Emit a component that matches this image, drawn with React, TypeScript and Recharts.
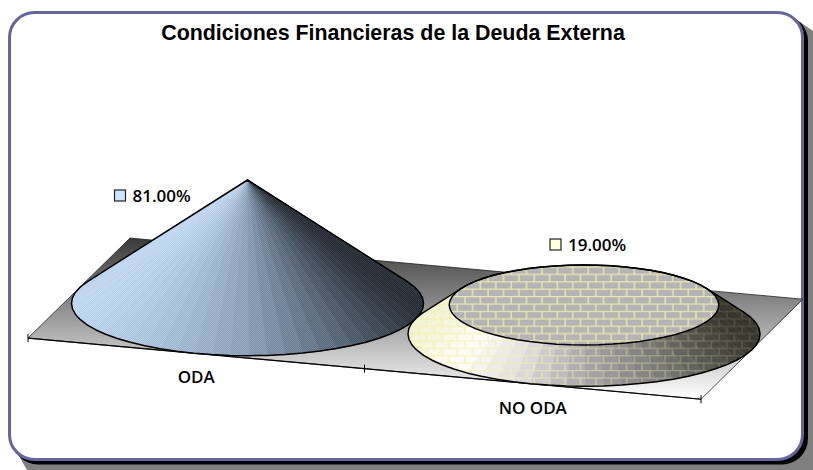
import { BarChart, Bar, XAxis, YAxis, LabelList, Customized } from "recharts";

const categories = ["ODA", "NO ODA"];
const shares = [81, 19];
const keyColors = ["#cce6ff", "#ffffdd"];

const chartData = categories.map((name, i) => ({ name, value: shares[i] }));

// projection of the fake 3D floor
const W = 813;
const H = 470;
const LEFT = 28;
const RIGHT = 112;
const TOP = 180;
const BOTTOM = 166.6;
const AXIS_H = 40;
const SLOPE = 0.0908; // front axis drop per px
const DEPTH_X = 51;
const DEPTH_Y = -50;
const SIDES = 60;
const AXIS_MAX = 81;

const plotW = W - LEFT - RIGHT;
const bandW = plotW / categories.length;
const frontY = (x: number) => H - BOTTOM - DEPTH_Y + SLOPE * (x - LEFT - bandW / 2);

function mix(a: number[], b: number[], t: number) {
  return a.map((v, i) => Math.round(v + (b[i] - v) * t));
}

function ramp(stops: [number, number[]][], u: number) {
  for (let i = 1; i < stops.length; i++) {
    if (u <= stops[i][0]) {
      const t = (u - stops[i - 1][0]) / (stops[i][0] - stops[i - 1][0]);
      const c = mix(stops[i - 1][1], stops[i][1], Math.max(0, t));
      return `rgb(${c[0]},${c[1]},${c[2]})`;
    }
  }
  const c = stops[stops.length - 1][1];
  return `rgb(${c[0]},${c[1]},${c[2]})`;
}

const coneRamp: [number, number[]][] = [
  [-1, [190, 212, 236]],
  [-0.6, [168, 190, 216]],
  [0, [130, 150, 174]],
  [0.5, [84, 98, 114]],
  [1, [38, 42, 50]],
];
const frustumRamp: [number, number[]][] = [
  [-1, [244, 244, 214]],
  [-0.75, [255, 255, 250]],
  [-0.4, [224, 224, 224]],
  [0, [168, 168, 168]],
  [0.5, [118, 118, 114]],
  [1, [52, 52, 44]],
];

type Pt = [number, number];

function hull(points: Pt[]) {
  const p = [...points].sort((a, b) => a[0] - b[0] || a[1] - b[1]);
  const cross = (o: Pt, a: Pt, b: Pt) =>
    (a[0] - o[0]) * (b[1] - o[1]) - (a[1] - o[1]) * (b[0] - o[0]);
  const lower: Pt[] = [];
  for (const q of p) {
    while (lower.length > 1 && cross(lower[lower.length - 2], lower[lower.length - 1], q) <= 0) lower.pop();
    lower.push(q);
  }
  const upper: Pt[] = [];
  for (const q of [...p].reverse()) {
    while (upper.length > 1 && cross(upper[upper.length - 2], upper[upper.length - 1], q) <= 0) upper.pop();
    upper.push(q);
  }
  return [...lower.slice(0, -1), ...upper.slice(0, -1)];
}

const toPoints = (pts: Pt[]) => pts.map((p) => `${p[0].toFixed(1)},${p[1].toFixed(1)}`).join(" ");

// cone cut off at the value, sitting on the floor
function ConeShape(props: any) {
  const { x, y, width, height, index } = props;
  const cx = x + width / 2 + DEPTH_X;
  const base = y + height + SLOPE * (x - LEFT);
  const cut = 1 - shares[index] / AXIS_MAX;
  const ring = (scale: number, cy: number): Pt[] =>
    Array.from({ length: SIDES }, (_, i) => {
      const t = (i / SIDES) * Math.PI * 2 + 0.09;
      const ux = width / 2;
      const uy = SLOPE * ux;
      return [
        cx + scale * (Math.cos(t) * ux + Math.sin(t) * DEPTH_X),
        cy + scale * (Math.cos(t) * uy + Math.sin(t) * DEPTH_Y),
      ] as Pt;
    });
  const low = ring(1, base);
  const high = ring(cut, base - height);
  const stops = index === 0 ? coneRamp : frustumRamp;
  const rx = Math.hypot(width / 2, DEPTH_X);
  const facets = low
    .map((p, i) => {
      const j = (i + 1) % SIDES;
      const quad: Pt[] = [p, low[j], high[j], high[i]];
      const midX = (p[0] + low[j][0]) / 2;
      const midY = (p[1] + low[j][1]) / 2;
      const u = (midX - cx) / rx;
      return { quad, midY, u, color: ramp(stops, u) };
    })
    .sort((a, b) => a.midY - b.midY);
  const outline = toPoints(hull([...low, ...high]));
  return (
    <g>
      {facets.map((f, i) => (
        <g key={i}>
          <polygon points={toPoints(f.quad)} fill={f.color} stroke={f.color} strokeWidth={0.5} />
          <polygon
            points={toPoints(f.quad)}
            fill={index === 0 ? "url(#dots)" : "url(#bricks)"}
            fillOpacity={index === 0 ? 0.6 - 0.45 * f.u : 0.62 - 0.46 * f.u}
          />
          <line
            x1={f.quad[0][0]}
            y1={f.quad[0][1]}
            x2={f.quad[3][0]}
            y2={f.quad[3][1]}
            stroke="#fff"
            strokeOpacity={0.14}
            strokeWidth={0.6}
          />
        </g>
      ))}
      {index === 1 && (
        <>
          <polygon points={toPoints(high)} fill="#b4b4b4" />
          <polygon points={toPoints(high)} fill="url(#bricks)" stroke="#000" strokeWidth={1.5} />
        </>
      )}
      <polygon points={outline} fill="none" stroke="#000" strokeWidth={1.5} strokeLinejoin="round" />
    </g>
  );
}

function Floor() {
  const x0 = LEFT;
  const x1 = W - RIGHT;
  const y0 = frontY(x0);
  const y1 = frontY(x1);
  const dx = DEPTH_X * 2;
  const dy = DEPTH_Y * 2;
  const ticks = categories.map((_, i) => i).concat(categories.length);
  return (
    <g>
      <defs>
        <linearGradient id="floorFill" x1="0" y1="0" x2="0" y2="1">
          <stop offset="0" stopColor="#3a3a3a" />
          <stop offset="1" stopColor="#ffffff" />
        </linearGradient>
        <pattern id="dots" width="2" height="2" patternUnits="userSpaceOnUse">
          <rect width="1" height="1" fill="#cce6ff" fillOpacity="0.45" />
          <rect x="1" y="1" width="1" height="1" fill="#cce6ff" fillOpacity="0.45" />
        </pattern>
        <pattern id="bricks" width="15.4" height="14.8" patternUnits="userSpaceOnUse">
          <path
            d="M0 0.6H15.4M0 8H15.4M3 0.6V8M10.7 8V14.8"
            fill="none"
            stroke="#f4f0b0"
            strokeOpacity="0.85"
            strokeWidth="1.4"
          />
        </pattern>
      </defs>
      <polygon
        points={toPoints([
          [x0, y0],
          [x1, y1],
          [x1 + dx, y1 + dy],
          [x0 + dx, y0 + dy],
        ])}
        fill="url(#floorFill)"
        stroke="#222"
        strokeWidth={0.8}
      />
      <line x1={x0} y1={y0} x2={x1} y2={y1} stroke="#000" strokeWidth={1.2} />
      {ticks.map((i) => {
        const tx = x0 + i * bandW;
        return <line key={i} x1={tx} x2={tx} y1={frontY(tx) - 4} y2={frontY(tx) + 4} stroke="#000" />;
      })}
    </g>
  );
}

function CategoryTick(props: any) {
  const { x, payload } = props;
  return (
    <text
      x={x}
      y={frontY(x) + 30}
      textAnchor="middle"
      fontFamily="'Open Sans', sans-serif"
      fontWeight={600}
      fontSize={17}
      fill="#000"
    >
      {payload.value}
    </text>
  );
}

// key box + percent, placed like the Excel data labels
const labelDx = [-133, -34];
const labelDy = [21, -55];

function ValueLabel(props: any) {
  const { x, y, width, value, index } = props;
  const cx = x + width / 2 + DEPTH_X;
  const top = y + SLOPE * (x - LEFT);
  const lx = cx + labelDx[index];
  const ly = top + labelDy[index];
  return (
    <g>
      <rect x={lx} y={ly - 11} width={11} height={11} fill={keyColors[index]} stroke="#222" strokeWidth={1.2} />
      <text
        x={lx + 18}
        y={ly + 1}
        fontFamily="'Open Sans', sans-serif"
        fontWeight={600}
        fontSize={17}
        fill="#000"
      >
        {Number(value).toFixed(2)}%
      </text>
    </g>
  );
}

export default function App() {
  return (
    <div style={{ position: "absolute", left: 0, top: 0, width: W, height: H, overflow: "hidden", background: "#fff" }}>
      <svg width={W} height={H} style={{ position: "absolute", left: 0, top: 0 }}>
        <polygon points={`${W},31 ${W},${H} 27,${H} 20,458 800,22`} fill="#808080" />
        <rect x={12} y={15} width={796} height={449.5} rx={26} fill="#000" />
        <rect x={9.5} y={12.5} width={793} height={447} rx={25} fill="#fff" stroke="#66669c" strokeWidth={3} />
      </svg>
      <div style={{ position: "absolute", left: 0, top: 0 }}>
        <BarChart
          width={W}
          height={H}
          data={chartData}
          barCategoryGap={0}
          margin={{ top: TOP, right: RIGHT, bottom: BOTTOM - AXIS_H, left: LEFT }}
        >
          <Customized component={Floor} />
          <XAxis dataKey="name" height={AXIS_H} axisLine={false} tickLine={false} interval={0} tick={<CategoryTick />} />
          <YAxis hide domain={[0, AXIS_MAX]} />
          <Bar dataKey="value" isAnimationActive={false} shape={<ConeShape />}>
            <LabelList dataKey="value" content={<ValueLabel />} />
          </Bar>
          <text
            x={393}
            y={40}
            textAnchor="middle"
            fontFamily="'Liberation Sans', Arial, sans-serif"
            fontWeight={700}
            fontSize={21.4}
            fill="#000"
          >
            Condiciones Financieras de la Deuda Externa
          </text>
        </BarChart>
      </div>
    </div>
  );
}
